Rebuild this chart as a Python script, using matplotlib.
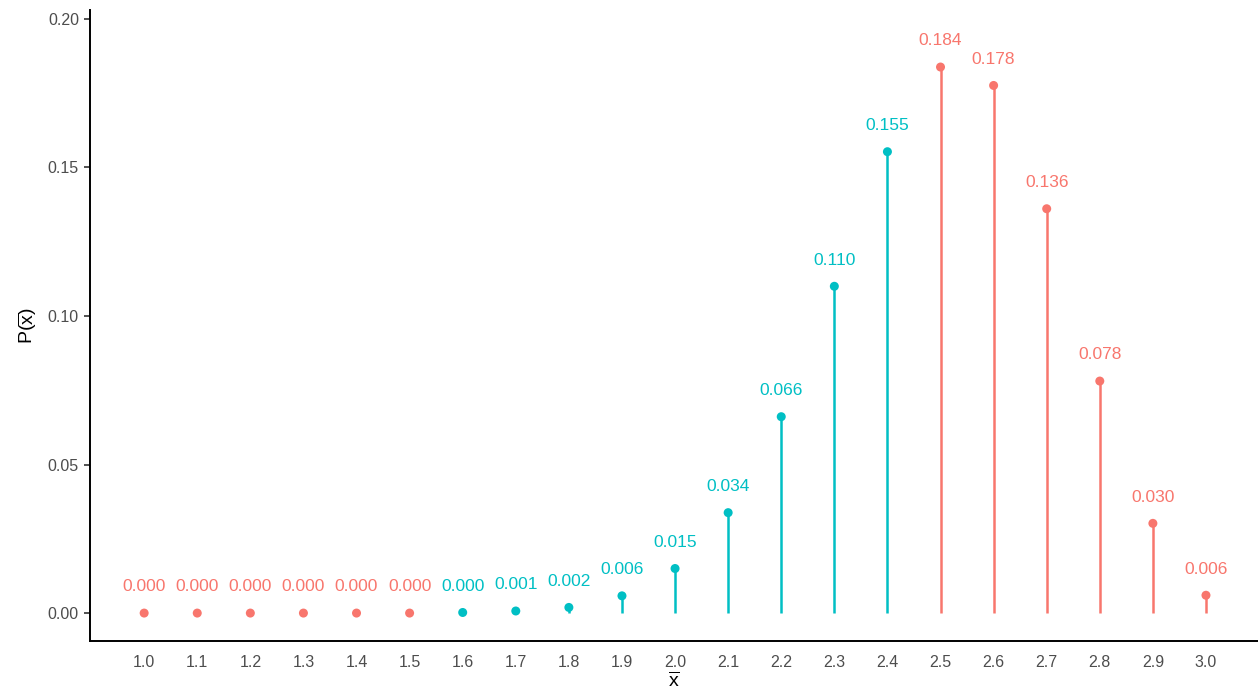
import matplotlib
matplotlib.use('Agg')
import matplotlib.pyplot as plt

# 数据
x_vals = [1.0, 1.1, 1.2, 1.3, 1.4, 1.5, 1.6, 1.7, 1.8, 1.9, 2.0,
          2.1, 2.2, 2.3, 2.4, 2.5, 2.6, 2.7, 2.8, 2.9, 3.0]
probs = [0.0000, 0.0000, 0.0000, 0.0000, 0.0000, 0.0000, 0.0002, 0.0007,
         0.0019, 0.0058, 0.0150, 0.0338, 0.0661, 0.1100, 0.1553, 0.1838,
         0.1776, 0.1361, 0.0781, 0.0302, 0.0060]
groups = ['tail'] * 6 + ['center'] * 9 + ['tail'] * 6

palette = {'tail': '#F8766D', 'center': '#00BFC4'}

plt.rcParams['font.family'] = ['Liberation Sans', 'DejaVu Sans']
plt.rcParams['mathtext.fontset'] = 'custom'
plt.rcParams['mathtext.rm'] = 'Liberation Sans'
plt.rcParams['mathtext.it'] = 'Liberation Sans'

fig = plt.figure(figsize=(12.58, 6.94), dpi=100)
ax = fig.add_axes([90 / 1258, 53 / 694, 1168 / 1258, 631 / 694])

colors = [palette[g] for g in groups]
ax.vlines(x_vals, 0, probs, colors=colors, linewidth=1.8)
ax.scatter(x_vals, probs, c=colors, s=42, zorder=3, linewidths=0)

# 数值标签
for x, p, c in zip(x_vals, probs, colors):
    ax.text(x, p + 0.0088, f'{p:.3f}', color=c, ha='center', va='center',
            fontsize=12.5)

ax.set_xlim(0.898, 3.098)
ax.set_ylim(-0.0094, 0.2030)
ax.set_xticks(x_vals)
ax.set_xticklabels([f'{x:.1f}' for x in x_vals])
ax.set_yticks([0.0, 0.05, 0.10, 0.15, 0.20])
ax.set_yticklabels(['0.00', '0.05', '0.10', '0.15', '0.20'])

ax.tick_params(axis='x', length=0, pad=10, labelsize=11.5, labelcolor='#4D4D4D')
ax.tick_params(axis='y', length=4, width=1.2, color='#333333', pad=4,
               labelsize=11.5, labelcolor='#4D4D4D')

for side in ['top', 'right']:
    ax.spines[side].set_visible(False)
for side in ['left', 'bottom']:
    ax.spines[side].set_linewidth(1.4)
    ax.spines[side].set_color('black')

ax.set_xlabel(r'$\overline{\mathrm{x}}$', fontsize=14, labelpad=1)
ax.set_ylabel(r'P($\overline{\mathrm{x}}$)', fontsize=14, labelpad=6)

fig.savefig('out.png', dpi=100)
